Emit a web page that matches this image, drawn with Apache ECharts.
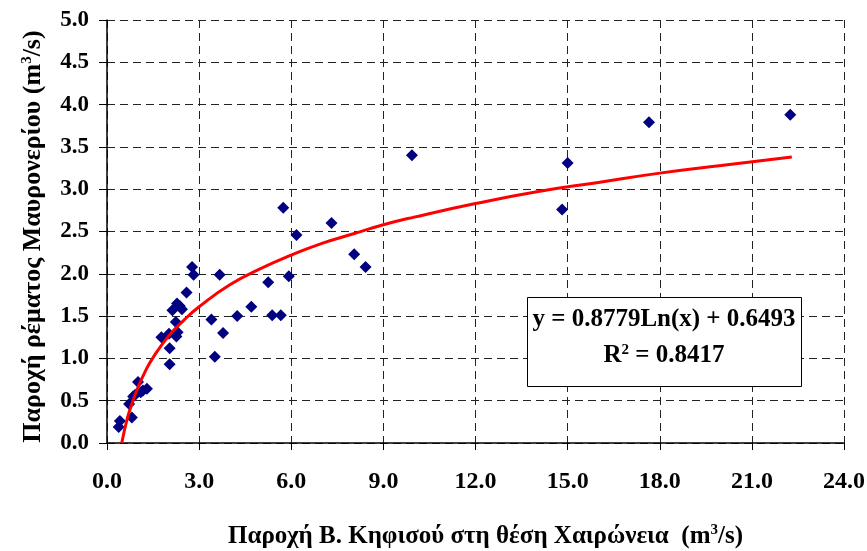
<!DOCTYPE html>
<html>
<head>
<meta charset="utf-8">
<script src="https://cdn.jsdelivr.net/npm/echarts@6/dist/echarts.min.js"></script>
<style>html,body{margin:0;padding:0;background:#fff}#c{width:867px;height:551px}</style>
</head>
<body>
<div id="c"></div>
<script>
// Observed points (x: Κηφισός flow, y: Μαυρονέρι flow)
var obsX = [0.38,0.42,0.72,0.81,0.85,0.92,1.01,1.10,1.17,1.30,1.77,2.02,2.04,2.04,2.26,2.30,2.24,2.13,2.28,2.44,2.37,2.59,2.77,2.82,3.40,3.51,3.67,3.78,4.24,4.70,5.25,5.38,5.66,5.74,5.92,6.17,7.31,8.05,8.42,9.93,14.82,15.00,17.65,22.25];
var obsY = [0.19,0.26,0.46,0.30,0.55,0.57,0.72,0.60,0.62,0.64,1.25,1.29,1.12,0.93,1.26,1.31,1.43,1.57,1.65,1.58,1.62,1.78,2.08,1.99,1.46,1.02,1.99,1.30,1.50,1.61,1.90,1.51,1.51,2.78,1.97,2.46,2.60,2.23,2.08,3.40,2.76,3.31,3.79,3.88];
// Trend line points
var trendX = [0.48,0.55,0.6,0.7,0.8,1.0,1.25,1.5,2.0,2.5,3.0,4.0,5.0,6.0,7.0,8.0,9.0,10.0,12.0,14.0,16.0,18.0,20.0,22.3];
var trendY = [0.00,0.12,0.20,0.34,0.45,0.65,0.85,1.01,1.26,1.45,1.61,1.87,2.06,2.22,2.36,2.47,2.58,2.67,2.83,2.97,3.08,3.19,3.28,3.38];
var xTicks = {min:0, max:24, interval:3};
var yTicks = {min:0, max:5, interval:0.5};
var eqLine1 = 'y = 0.8779Ln(x) + 0.6493';
var eqLine2 = '0.8417';

var font = '"Liberation Serif","Times New Roman",serif';
function zip(a,b){return a.map(function(v,i){return [v,b[i]];});}

var chart = echarts.init(document.getElementById('c'), null, {renderer:'canvas'});
chart.setOption({
  backgroundColor:'#fff',
  animation:false,
  grid:{left:107, right:23, top:20, bottom:108, containLabel:false, outerBoundsMode:'none'},
  xAxis:{
    type:'value', min:xTicks.min, max:xTicks.max, interval:xTicks.interval,
    axisLine:{onZero:false, lineStyle:{color:'#000', width:1.5}},
    axisTick:{show:true, length:7, lineStyle:{color:'#000'}},
    axisLabel:{margin:27, color:'#000', fontFamily:font, fontWeight:'bold', fontSize:24,
      formatter:function(v){return v.toFixed(1);}},
    splitLine:{show:true, lineStyle:{color:'#222', type:[8,5], width:1}},
    name:'{t|Παροχή Β. Κηφισού στη θέση Χαιρώνεια  (m}{s|3}{t|/s)}',
    nameLocation:'middle', nameGap:80,
    nameTextStyle:{padding:[0,0,0,20], rich:{
      t:{fontFamily:font, fontWeight:'bold', fontSize:25, color:'#000'},
      s:{fontFamily:font, fontWeight:'bold', fontSize:15, color:'#000', verticalAlign:'top', padding:[0,0,12,0]}
    }}
  },
  yAxis:{
    type:'value', min:yTicks.min, max:yTicks.max, interval:yTicks.interval,
    axisLine:{show:true, onZero:false, lineStyle:{color:'#000', width:1.5}},
    axisTick:{show:true, length:8, lineStyle:{color:'#000'}},
    axisLabel:{margin:18, color:'#000', fontFamily:font, fontWeight:'bold', fontSize:23,
      formatter:function(v){return v.toFixed(1);}},
    splitLine:{show:true, lineStyle:{color:'#222', type:[8,5], width:1}},
    name:'{t|Παροχή ρέματος Μαυρονερίου (m}{s|3}{t|/s)}',
    nameLocation:'middle', nameGap:60, nameRotate:90,
    nameTextStyle:{padding:[0,10,0,0], rich:{
      t:{fontFamily:font, fontWeight:'bold', fontSize:26, color:'#000'},
      s:{fontFamily:font, fontWeight:'bold', fontSize:15, color:'#000', verticalAlign:'top', padding:[0,0,12,0]}
    }}
  },
  series:[
    {type:'line', data:zip(trendX,trendY), smooth:true, showSymbol:false,
     lineStyle:{color:'#ff0000', width:3}, z:3},
    {type:'scatter', data:zip(obsX,obsY), symbol:'diamond', symbolSize:[12,12],
     itemStyle:{color:'#000080', opacity:1}, z:2}
  ],
  graphic:[
    {type:'rect', left:527, top:297, shape:{width:274, height:89},
     style:{fill:'#fff', stroke:'#000', lineWidth:1}, z:10},
    {type:'text', x:664, y:320, z:11,
     style:{text:eqLine1, font:'bold 25px '+font, fill:'#000', align:'center', verticalAlign:'middle'}},
    {type:'text', x:664, y:356, z:11,
     style:{text:'{a|R}{s|2}{a| = '+eqLine2+'}', align:'center', verticalAlign:'middle', rich:{
       a:{font:'bold 25px '+font, fill:'#000'},
       s:{font:'bold 15px '+font, fill:'#000', verticalAlign:'top', padding:[0,0,12,0]}
     }}}
  ]
});
</script>
</body>
</html>
